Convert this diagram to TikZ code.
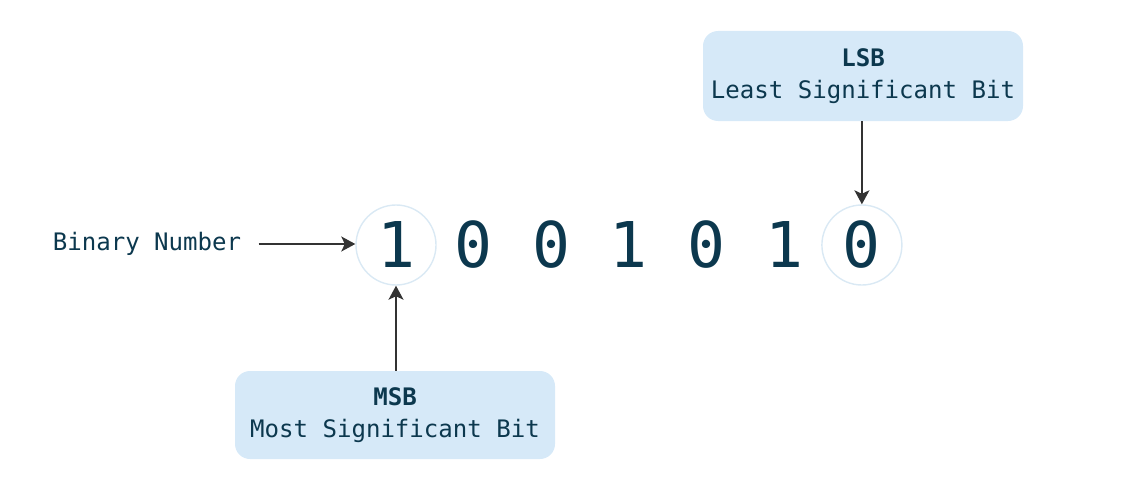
\documentclass[tikz,border=0pt]{standalone}
\usepackage{fontspec}
\setmonofont{DejaVu Sans Mono}
\usepackage{tikz}
\usetikzlibrary{positioning, arrows.meta}

\definecolor{inkblue}{RGB}{12,56,78}
\definecolor{boxblue}{RGB}{214,233,248}
\definecolor{ringblue}{RGB}{218,233,244}
\definecolor{arrowgray}{RGB}{51,51,51}

\begin{document}
\begin{tikzpicture}[every node/.style={font=\ttfamily, text=inkblue},
                    digit/.style={font=\ttfamily\fontsize{35.9}{40}\selectfont, inner sep=0pt},
                    ring/.style={circle, draw=ringblue, line width=0.8pt, minimum size=1.6cm, inner sep=0pt},
                    infobox/.style={rounded corners=0.3cm, fill=boxblue, minimum width=6.4cm, align=center,
                                    font=\ttfamily\fontsize{13.7}{18.6}\selectfont},
                    pointer/.style={draw=arrowgray, line width=1.05pt, -{Stealth[length=2.8mm, width=3mm, inset=0.7mm]}}]
                    \useasboundingbox (0, 0) rectangle (22.5, 9.72);

                    % Nodes
                    \foreach \b [count=\i from 0] in {1, 0, 0, 1, 0, 1, 0}
                        \node[digit] (d\i) at (7.92 + 1.553*\i, 4.82) {\b};

                    \node[ring] (msbring) at (d0) {};
                    \node[ring] (lsbring) at (d6) {};

                    \node[inner xsep=0.34cm, font=\ttfamily\fontsize{13.7}{16}\selectfont] (bin) at (2.94, 4.84) {Binary Number};

                    \node[infobox, minimum height=1.8cm] (lsb) at (17.26, 8.2) {\textbf{LSB}\\Least Significant Bit};
                    \node[infobox, minimum height=1.76cm] (msb) at (7.9, 1.42) {\textbf{MSB}\\Most Significant Bit};

                    % Edges
                    % label to first bit
                    \draw[pointer] (bin.east) -- (msbring.west |- bin.east);

                    % LSB box to last bit
                    \draw[pointer] (lsb.south -| lsbring.north) -- (lsbring.north);

                    % MSB box to first bit
                    \draw[pointer] (msb.north -| msbring.south) -- (msbring.south);

                \end{tikzpicture}
\end{document}
